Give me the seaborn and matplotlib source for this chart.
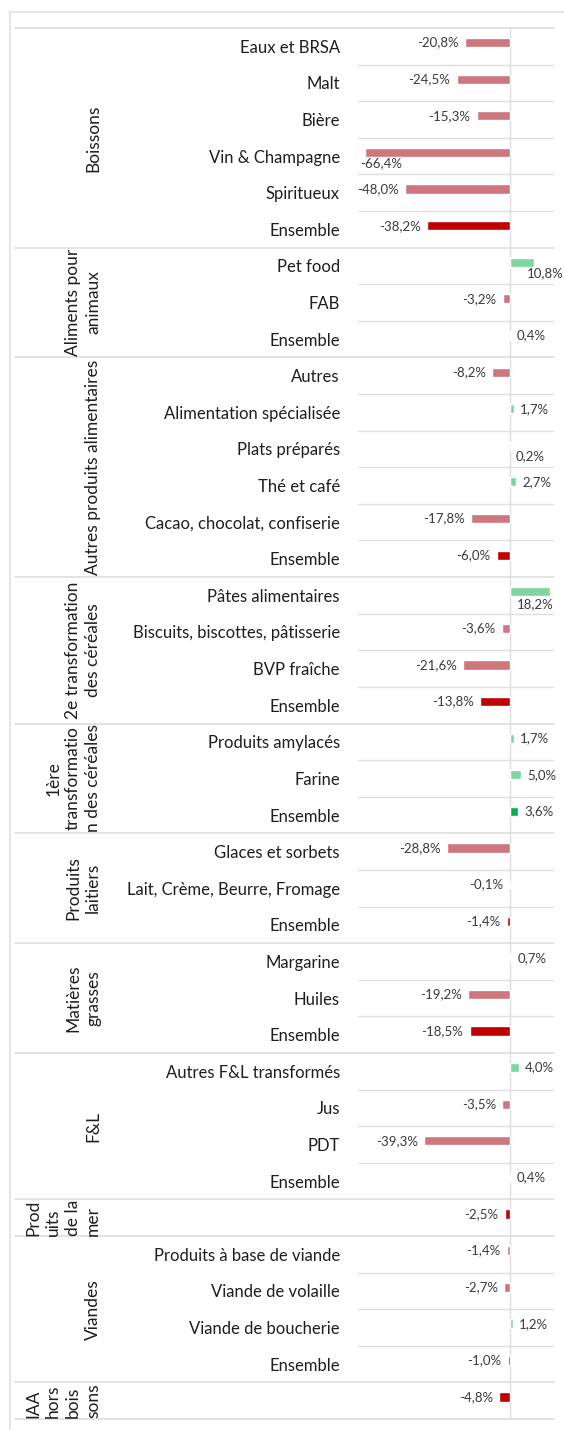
import matplotlib
matplotlib.use("Agg")
import matplotlib.pyplot as plt
import matplotlib.transforms as mtransforms
from matplotlib.lines import Line2D
import seaborn as sns
import pandas as pd
import numpy as np

# data (variation in %)
group_labels = ["Boissons", "Aliments pour\nanimaux", "Autres produits alimentaires",
                "2e transformation\ndes céréales", "1ère\ntransformatio\nn des céréales",
                "Produits\nlaitiers", "Matières\ngrasses", "F&L", "Prod\nuits\nde la\nmer",
                "Viandes", "IAA\nhors\nbois\nsons"]
group_sizes = [6, 3, 6, 4, 3, 3, 3, 4, 1, 4, 1]

row_labels = ["Eaux et BRSA", "Malt", "Bière", "Vin & Champagne", "Spiritueux", "Ensemble",
              "Pet food", "FAB", "Ensemble",
              "Autres", "Alimentation spécialisée", "Plats préparés", "Thé et café",
              "Cacao, chocolat, confiserie", "Ensemble",
              "Pâtes alimentaires", "Biscuits, biscottes, pâtisserie", "BVP fraîche", "Ensemble",
              "Produits amylacés", "Farine", "Ensemble",
              "Glaces et sorbets", "Lait, Crème, Beurre, Fromage", "Ensemble",
              "Margarine", "Huiles", "Ensemble",
              "Autres F&L transformés", "Jus", "PDT", "Ensemble",
              "",
              "Produits à base de viande", "Viande de volaille", "Viande de boucherie", "Ensemble",
              ""]
values = [-20.8, -24.5, -15.3, -66.4, -48.0, -38.2,
          10.8, -3.2, 0.4,
          -8.2, 1.7, 0.2, 2.7, -17.8, -6.0,
          18.2, -3.6, -21.6, -13.8,
          1.7, 5.0, 3.6,
          -28.8, -0.1, -1.4,
          0.7, -19.2, -18.5,
          4.0, -3.5, -39.3, 0.4,
          -2.5,
          -1.4, -2.7, 1.2, -1.0,
          -4.8]

# labels that Excel pushed under the bar: row -> (dx, dy) in points
label_moves = {3: (-4, -8), 6: (-5, -8), 11: (4, -8), 15: (3, -9)}
label_align = {3: "left", 6: "left", 11: "left", 15: "right"}

palette = {"neg": "#CF757D", "neg_tot": "#C00000", "pos": "#7DD6A0", "pos_tot": "#00B050"}

n = len(row_labels)
is_total = []
for size in group_sizes:
    is_total += [False] * (size - 1) + [True]
kind = []
for v, tot in zip(values, is_total):
    k = "pos" if v >= 0 else "neg"
    kind.append(k + "_tot" if tot else k)

df = pd.DataFrame({"row": np.arange(n), "value": values, "kind": kind})
df["ypos"] = df["row"] - 0.1

sns.set_style("white")
plt.rcParams["font.family"] = ["Lato", "DejaVu Sans"]

W, H = 564, 1430
fig = plt.figure(figsize=(W / 100, H / 100), dpi=100)
ax_left, ax_right, ax_top, ax_bot = 358, 554, 28, 1419
ax = fig.add_axes([ax_left / W, 1 - ax_bot / H, (ax_right - ax_left) / W, (ax_bot - ax_top) / H])

sns.barplot(data=df, x="value", y="ypos", hue="kind", palette=palette, orient="y",
            native_scale=True, dodge=False, width=0.25, legend=False, saturation=1, ax=ax)

ax.set_xlim(-69.7, 20.2)
ax.set_ylim(n - 0.5, -0.5)
for s in ax.spines.values():
    s.set_visible(False)
ax.set_xticks([])
ax.set_xlabel("")
ax.set_ylabel("")
ax.set_yticks(np.arange(n))
ax.set_yticklabels(row_labels, fontsize=12, color="#1e1e1e")
ax.tick_params(axis="y", length=0, pad=13)

ax.axvline(0, color="#DCDCDC", lw=1, zorder=0)

# value labels
for i, v in enumerate(values):
    txt = f"{v:.1f}%".replace(".", ",")
    dx, dy = label_moves.get(i, (4.5 if v >= 0 else -4.5, 0))
    ha = label_align.get(i, "left" if v >= 0 else "right")
    ax.annotate(txt, (v, i - 0.1), xytext=(dx, dy), textcoords="offset points",
                ha=ha, va="center", fontsize=9.5, color="#3a3a3a")

# grid lines: short ones inside groups, long ones between groups
blend = mtransforms.blended_transform_factory(ax.transAxes, ax.transData)
x_full = (15 - ax_left) / (ax_right - ax_left)
bounds = np.cumsum([0] + group_sizes)
for r in range(1, n):
    if r in bounds:
        continue
    ax.plot([0, 1], [r - 0.5, r - 0.5], color="#DEDEDE", lw=1, transform=blend, zorder=0)
for b in bounds:
    ax.plot([x_full, 1], [b - 0.5, b - 0.5], color="#DEDEDE", lw=1.2, transform=blend,
            clip_on=False, zorder=0)

# rotated group names
x_grp = (101 - ax_left) / (ax_right - ax_left)
for g, lab in enumerate(group_labels):
    centre = (bounds[g] + bounds[g + 1]) / 2 - 0.5
    ax.text(x_grp, centre, lab, rotation=90, ha="right", va="center", fontsize=12.5,
            color="#1e1e1e", transform=blend, clip_on=False, linespacing=1.3,
            multialignment="left" if group_sizes[g] == 1 else "center")

# outer frame of the picture
fig.add_artist(Line2D([10 / W, 10 / W], [0, 1 - 12 / H], color="#E6E6E6", lw=1.5,
                      transform=fig.transFigure))
fig.add_artist(Line2D([10 / W, 1], [1 - 12 / H, 1 - 12 / H], color="#E6E6E6", lw=1.5,
                      transform=fig.transFigure))

fig.savefig("out.png", dpi=100)
plt.close(fig)
